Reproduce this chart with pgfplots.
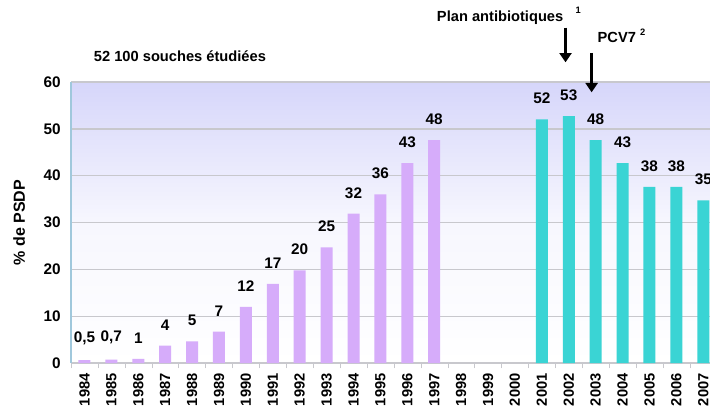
\documentclass[border=0pt]{standalone}
\usepackage{pgfplots}
\pgfplotsset{compat=1.18}
\usepackage{pgfplotstable}
\usepackage{fontspec}
\setmainfont{Liberation Sans}
\usetikzlibrary{arrows.meta}
\definecolor{barviolet}{RGB}{214,172,250}
\definecolor{barteal}{RGB}{58,212,212}
\definecolor{bgtop}{RGB}{214,214,250}
\definecolor{gridgray}{RGB}{200,200,205}

% index 0 = 1984
\pgfplotstableread{
x y lab
0 0.6 {0,5}
1 0.7 {0,7}
2 0.9 1
3 3.7 4
4 4.6 5
5 6.7 7
6 12 12
7 16.9 17
8 19.8 20
9 24.7 25
10 31.9 32
11 36 36
12 42.7 43
13 47.6 48
}\avant
\pgfplotstableread{
x y lab
17 52 52
18 52.7 53
19 47.6 48
20 42.7 43
21 37.6 38
22 37.6 38
23 34.7 35
}\apres

\begin{document}
\begin{tikzpicture}[x=1pt,y=1pt]
\useasboundingbox (-53.25,-36.75) rectangle (479.25,272.25);
\begin{axis}[
    at={(0,0)}, anchor=south west,
    scale only axis,
    width=479.25pt, height=210.75pt,
    xmin=-0.5, xmax=23.25,
    ymin=0, ymax=60,
    ytick={0,10,...,60},
    xtick={0,...,23},
    xticklabels={1984,1985,1986,1987,1988,1989,1990,1991,1992,1993,1994,1995,1996,1997,1998,1999,2000,2001,2002,2003,2004,2005,2006,2007},
    x tick label style={rotate=90, anchor=east, font=\bfseries\fontsize{11}{12}\selectfont},
    y tick label style={font=\bfseries\fontsize{11.5}{13}\selectfont},
    /pgf/number format/assume math mode=true,
    major x tick style={draw=none},
    minor xtick={-0.5,0.5,...,23.5},
    minor tick length=4pt,
    minor x tick style={gridgray},
    tick align=outside,
    major y tick style={draw=none},
    ymajorgrids=true,
    grid style={gridgray, line width=1pt},
    axis x line*=bottom,
    axis y line*=left,
    x axis line style={draw=gridgray, line width=1pt, -},
    y axis line style={draw={rgb,255:red,160;green,200;blue,220}, line width=0.8pt, -},
    axis background/.style={shade, top color=bgtop, bottom color=white, middle color={bgtop!20}},
    ylabel={\% de PSDP},
    ylabel style={font=\bfseries\fontsize{12}{14}\selectfont, yshift=7pt},
    ybar, bar width=9pt,
    nodes near coords,
    point meta=explicit symbolic,
    every node near coord/.append style={font=\bfseries\fontsize{11.5}{13}\selectfont, black, yshift=8pt},
    clip=false,
]
\addplot[fill=barviolet, draw=none, bar shift=0pt] table[x=x, y=y, meta=lab] {\avant};
\addplot[fill=barteal, draw=none, bar shift=0pt] table[x=x, y=y, meta=lab] {\apres};
\node[font=\bfseries\fontsize{11}{13}\selectfont] at (axis cs:3.55,65.5) {52 100 souches étudiées};
\node[font=\bfseries\fontsize{11}{13}\selectfont] at (axis cs:15.45,73.8) {Plan antibiotiques};
\node[font=\bfseries\fontsize{7}{8}\selectfont] at (axis cs:18.35,75.4) {1};
\node[font=\bfseries\fontsize{11}{13}\selectfont, anchor=west] at (axis cs:18.9,69.5) {PCV7};
\node[font=\bfseries\fontsize{7}{8}\selectfont] at (axis cs:20.75,70.6) {2};
\draw[line width=2pt, -{Triangle[length=7pt, width=9pt]}] (axis cs:17.88,71.6) -- (axis cs:17.88,64.2);
\draw[line width=2pt, -{Triangle[length=7pt, width=9pt]}] (axis cs:18.85,66.2) -- (axis cs:18.85,57.8);
\end{axis}
\end{tikzpicture}
\end{document}
